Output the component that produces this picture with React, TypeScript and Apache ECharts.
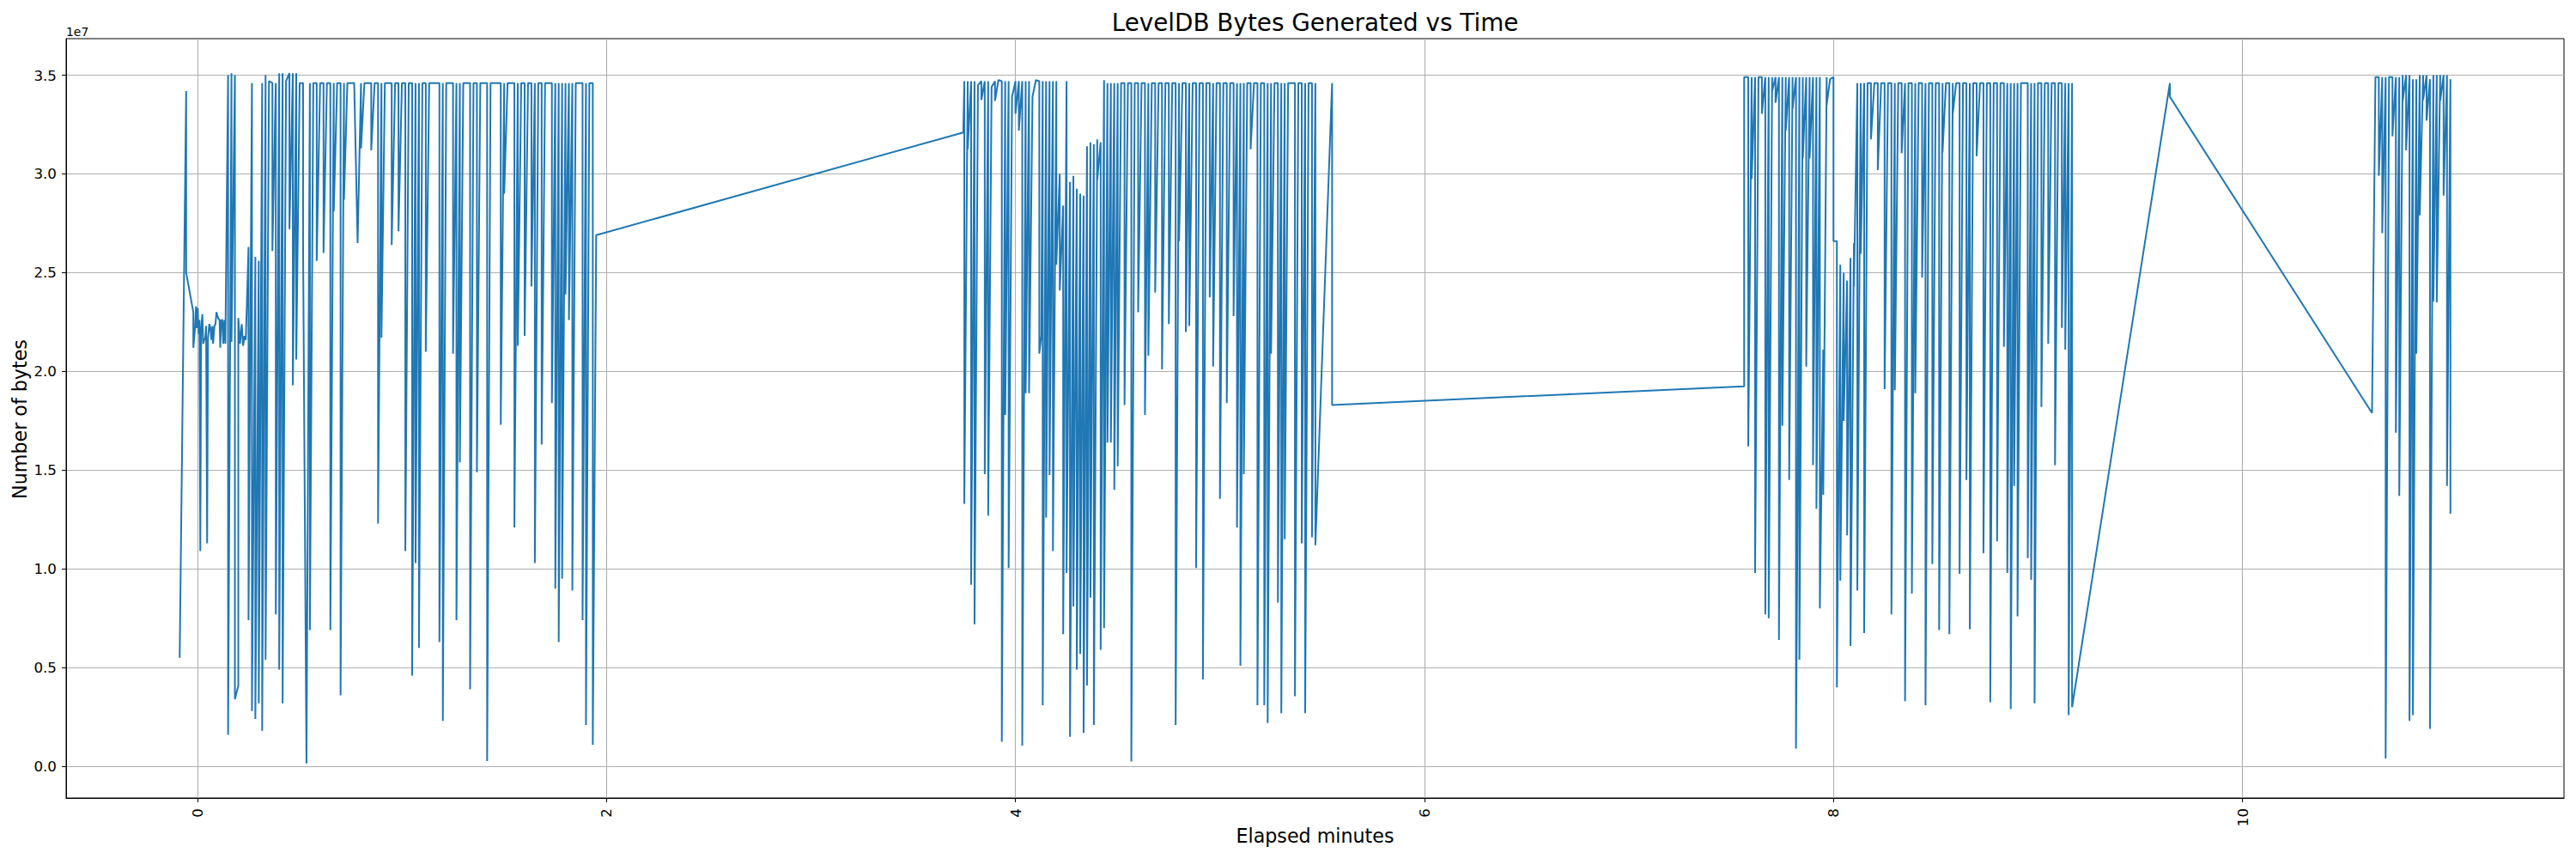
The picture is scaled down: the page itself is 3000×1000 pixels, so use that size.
import React, { useEffect, useRef } from "react";
import * as echarts from "echarts";

// Each row: [elapsed seconds, value (MB), optional second value at the same instant (MB)]
const seg1: number[][] = [
  [-5.2, 5.5], [-3.3, 34.2, 25.0], [-1.2, 23.0, 21.2], [-0.7, 22.2], [-0.4, 23.3], [-0.25, 22.2],
  [0.1, 23.2], [0.35, 21.9], [0.6, 22.6], [0.85, 10.9], [1.1, 22.2], [1.45, 22.9], [1.7, 21.4],
  [2.0, 21.6], [2.3, 21.7], [2.55, 22.3], [2.85, 11.3], [3.1, 21.7], [3.5, 22.4], [3.8, 22.2],
  [4.1, 21.6], [4.4, 22.3], [4.6, 21.4], [5.0, 22.3], [5.3, 22.4], [5.6, 23.0], [5.9, 22.8],
  [6.1, 22.7], [6.5, 22.6], [6.7, 21.2], [7.0, 22.6], [7.3, 22.6], [7.6, 21.4], [7.9, 22.6], [8.2, 21.4],
  [9, 35.0, 1.6], [10, 35.1, 21.5], [11, 35.0, 3.4], [12, 4.1, 22.7], [12.5, 21.4], [13, 22.4],
  [13.4, 21.3], [13.8, 21.8], [14.2, 21.6], [15, 26.3, 7.4], [16, 34.6, 2.8], [17, 25.8, 2.4],
  [18, 25.6, 3.2], [19, 34.6, 1.8], [20, 35.0, 5.4], [21, 34.7], [22, 34.6, 26.1], [23, 34.6, 7.7],
  [24, 35.1, 4.9], [25, 35.1, 3.2], [26, 34.7], [27, 35.1, 27.2], [28, 35.1, 19.3], [29, 35.1, 20.6],
  [30, 34.6], [31, 34.6, 26.4], [32, 0.15], [33, 34.6, 6.9], [34, 34.6], [35, 34.6, 25.6], [36, 34.6],
  [37, 34.6, 26.0], [38, 34.6], [39, 34.6, 6.9], [40, 34.6, 28.1], [41, 34.6], [42, 34.6, 3.6],
  [43, 34.6, 28.7], [44, 34.6], [46, 34.6], [47, 26.5], [48, 34.6, 31.3], [49, 34.6], [51, 34.6, 31.2],
  [52, 34.6], [53, 34.6, 12.3], [54, 34.6, 21.7], [55, 34.6], [57, 34.6, 26.4], [58, 34.6],
  [59, 34.6, 27.1], [60, 34.6], [61, 34.6, 10.9], [62, 34.6], [63, 34.6, 4.6], [64, 34.6, 10.3],
  [65, 34.6, 6.0], [66, 34.6], [67, 34.6, 21.0], [68, 34.6], [71, 34.6, 6.3], [72, 34.6, 2.3],
  [73, 34.6], [75, 34.6, 20.9], [76, 34.6, 7.4], [77, 34.6, 15.4], [78, 34.6], [80, 34.6, 3.9],
  [81, 34.6], [82, 34.6, 14.9], [83, 34.6], [85, 34.6, 0.27], [86, 34.6], [89, 34.6, 17.3],
  [90, 34.6, 29.0], [91, 34.6], [93, 34.6, 12.1], [94, 34.6, 21.3], [95, 34.6], [96, 34.6, 21.8],
  [97, 34.6], [98, 34.6, 24.3], [99, 34.6, 10.3], [100, 34.6], [101, 34.6, 16.3], [102, 34.6],
  [104, 34.6, 18.4], [105, 34.6, 9.0], [106, 34.6, 6.3], [107, 34.6, 9.5], [108, 34.6, 23.9],
  [109, 34.6, 22.6], [110, 34.6, 8.9], [111, 34.6], [113, 34.6, 7.4], [114, 34.6, 2.1], [115, 34.6],
  [116, 34.6, 1.1], [117, 26.9],
];

const seg2: number[][] = [
  [224.7, 32.1], [225, 34.7, 13.3], [226, 34.7, 31.25], [227, 34.7, 9.2], [228, 34.7, 7.2], [229, 34.5],
  [230, 34.7, 33.75], [231, 34.7, 14.8], [232, 34.7, 12.7], [233, 34.4], [234, 34.7, 33.7], [235, 34.75],
  [236, 34.7, 1.25], [237, 34.7, 17.8], [238, 34.7, 10.05], [239, 33.9], [240, 34.7, 33.05],
  [241, 34.7, 32.2], [242, 34.7, 1.05], [243, 34.7, 18.9], [244, 34.7, 18.9], [245, 33.9], [246, 34.75],
  [247, 34.7, 20.9], [247.6, 21.8], [248, 34.7, 3.1], [249, 34.7, 12.6], [250, 34.7, 14.75],
  [251, 34.7, 10.9], [252, 34.7, 25.4], [253, 30.0, 24.1], [254, 28.4, 6.7], [255, 34.7, 9.8],
  [256, 29.6, 1.5], [257, 29.9, 8.1], [258, 29.25, 4.9], [259, 29.0, 5.7], [260, 28.9, 1.7],
  [261, 31.4, 4.1], [262, 31.6, 8.55], [263, 31.5, 2.1], [264, 31.75, 29.7], [265, 31.6, 5.9],
  [266, 34.75, 7.0], [267, 34.6, 16.4], [268, 34.6, 16.4], [269, 34.6, 14.0], [270, 34.6, 15.2],
  [271, 34.6], [272, 34.6, 18.3], [273, 34.6], [274, 34.6, 0.25], [275, 34.6], [276, 34.6, 23.0],
  [277, 34.6], [278, 34.6, 17.8], [279, 34.6, 20.8], [280, 34.6], [281, 34.6, 24.0], [282, 34.6],
  [283, 34.6, 20.1], [284, 34.6], [285, 34.6, 22.4], [286, 34.6], [287, 34.6, 2.1], [288, 34.6, 26.6],
  [289, 34.6], [290, 34.6, 22.0], [291, 34.6, 22.3], [292, 34.6], [293, 34.6, 10.05], [294, 34.6],
  [295, 34.6, 4.4], [296, 34.6], [297, 34.6, 23.75], [298, 34.6, 20.25], [299, 34.6], [300, 34.6, 13.55],
  [301, 34.6], [302, 34.6, 18.4], [303, 34.6], [304, 34.6, 22.8], [305, 34.6, 12.1], [306, 34.6, 5.1],
  [307, 34.6, 14.8], [308, 34.6], [309, 34.6, 31.25], [310, 34.6], [311, 34.6, 3.1], [312, 34.6],
  [313, 34.6, 3.1], [314, 34.6, 2.2], [315, 34.6, 20.9], [316, 34.6], [317, 34.6, 8.3], [318, 34.6, 2.7],
  [319, 34.6, 11.5], [320, 34.6], [322, 34.6, 3.55], [323, 34.6], [324, 34.6, 11.3], [325, 34.6, 2.7],
  [326, 34.6], [327, 34.6, 11.6], [328, 34.6, 11.2], [332.9, 34.6, 18.3],
];

const seg3: number[][] = [
  [453.8, 19.25, 34.9], [455, 34.9, 16.2], [456, 34.9, 29.75], [457, 34.9, 9.8], [458, 34.9],
  [459, 34.9, 33.05], [460, 34.9, 7.7], [461, 34.9, 7.5], [462, 34.9, 34.2], [463, 34.9, 33.6],
  [464, 34.9, 6.4], [465, 34.9, 17.25], [466, 34.9, 32.2], [467, 34.9, 14.5], [468, 34.9, 33.3],
  [469, 34.9, 0.9], [469.5, 14.0], [470, 34.9, 5.4], [471, 34.9, 30.8], [472, 34.9, 20.25],
  [473, 34.9, 30.8], [474, 34.9, 15.25], [475, 34.9, 13.05], [476, 34.9, 8.0], [477, 21.1, 13.75],
  [478, 34.9, 33.5], [479, 34.8], [480, 34.9, 26.6], [481, 26.6, 4.0], [482, 25.4, 9.4],
  [483, 25.0, 17.5], [484, 24.6, 11.7], [485, 25.75, 6.1], [486, 26.5, 24.3], [487, 34.6, 8.9],
  [488, 34.6, 25.95], [489, 34.6, 6.75], [490, 34.6], [491, 34.6, 31.75], [492, 34.6], [493, 34.6, 30.2],
  [494, 34.6], [495, 34.6, 19.1], [496, 34.6], [497, 34.6, 7.7], [498, 34.6, 19.05], [499, 34.6],
  [500, 34.6, 31.05], [501, 34.6, 3.3], [502, 34.6], [503, 34.6, 8.75], [504, 34.6, 18.9], [505, 34.6],
  [506, 34.6, 24.75], [507, 34.6, 3.1], [508, 34.6], [509, 34.6, 10.25], [510, 34.6], [511, 34.6, 6.9],
  [512, 34.6, 31.1], [513, 34.6], [514, 34.6, 6.7], [515, 34.6, 33.05], [516, 34.6], [517, 34.6, 9.75],
  [518, 34.6], [519, 34.6, 14.5], [520, 34.6, 6.95], [521, 34.6], [522, 34.6, 30.9], [523, 34.6],
  [524, 34.6, 10.8], [525, 34.6], [526, 34.6, 3.25], [527, 34.6], [528, 34.6, 11.4], [529, 34.6],
  [530, 34.6, 21.25], [531, 34.6, 9.8], [532, 34.6, 2.9], [533, 34.6, 14.2], [534, 34.6, 7.6],
  [535, 34.6], [537, 34.6, 10.55], [538, 34.6, 9.45], [539, 34.6, 3.2], [540, 34.6], [541, 34.6, 18.2],
  [542, 34.6], [543, 34.6, 21.4], [544, 34.6], [545, 34.6, 15.25], [546, 34.6], [547, 34.6, 22.2],
  [548, 34.6, 21.1], [549, 34.6, 2.6], [550, 34.6, 3.0],
];

const gapPeak: number[][] = [[578.7, 34.6, 33.9], [638, 17.9]];

const seg4: number[][] = [
  [639, 34.9], [640, 34.9, 29.9], [641, 34.9, 27.0], [642, 34.9, 0.4], [643, 34.9], [644, 34.9, 31.9],
  [645, 34.9, 16.9], [646, 34.9, 13.7], [647, 35.0, 33.7], [648, 35.0, 31.2], [649, 35.0, 2.3],
  [650, 34.8, 2.6], [651, 34.8, 20.9], [652, 35.0, 27.9], [653, 35.0, 33.75], [654, 35.0, 32.7],
  [655, 34.8, 1.9], [656, 35.0, 23.55], [657, 35.0, 23.5], [658, 35.0, 33.7], [659, 35.0, 28.9],
  [660, 35.0, 14.2], [661, 34.8, 12.8],
];

const xTicks = [0, 2, 4, 6, 8, 10];
const yTicks = [0, 5e6, 10e6, 15e6, 20e6, 25e6, 30e6, 35e6];

const TITLE = "LevelDB Bytes Generated vs Time";
const X_NAME = "Elapsed minutes";
const Y_NAME = "Number of bytes";
const OFFSET_TEXT = "1e7";

const FONT = "DejaVu Sans";

function buildPoints(): [number, number][] {
  const out: [number, number][] = [];
  for (const seg of [seg1, seg2, seg3, gapPeak, seg4]) {
    for (const row of seg) {
      const s = row[0];
      for (let i = 1; i < row.length; i++) out.push([s / 60, row[i] * 1e6]);
    }
  }
  return out;
}

export default function App() {
  const ref = useRef<HTMLDivElement>(null);
  useEffect(() => {
    if (!ref.current) return;
    const chart = echarts.init(ref.current, null, { renderer: "svg" });
    chart.setOption({
      animation: false,
      backgroundColor: "#ffffff",
      grid: {
        left: 77,
        top: 45,
        right: 14,
        bottom: 71,
        show: true,
        borderColor: "#000000",
        borderWidth: 1,
        containLabel: false,
        outerBoundsMode: "none",
      },
      xAxis: {
        type: "value",
        min: -0.642,
        max: 11.572,
        splitNumber: 6,
        axisLine: { show: true, onZero: false, lineStyle: { color: "#000", width: 1 } },
        axisTick: { show: true, customValues: xTicks, length: 5, lineStyle: { color: "#000", width: 1 } },
        axisLabel: {
          customValues: xTicks,
          rotate: 90,
          margin: 12,
          fontSize: 16.7,
          fontFamily: FONT,
          color: "#000",
          formatter: (v: number) => String(v),
        },
        splitLine: { show: true, lineStyle: { color: "#b0b0b0", width: 1.1 } },
      },
      yAxis: {
        type: "value",
        min: -1.6e6,
        max: 36.85e6,
        splitNumber: 8,
        axisLine: { show: true, onZero: false, lineStyle: { color: "#000", width: 1 } },
        axisTick: { show: true, customValues: yTicks, length: 5, lineStyle: { color: "#000", width: 1 } },
        axisLabel: {
          customValues: yTicks,
          margin: 11,
          fontSize: 16.7,
          fontFamily: FONT,
          color: "#000",
          formatter: (v: number) => (v / 1e7).toFixed(1),
        },
        splitLine: { show: true, lineStyle: { color: "#b0b0b0", width: 1.1 } },
      },
      graphic: [
        {
          type: "text",
          x: 1531.5,
          y: 26,
          style: { text: TITLE, fontSize: 27.8, fontFamily: FONT, fill: "#000", align: "center", verticalAlign: "middle" },
        },
        {
          type: "text",
          x: 1531.5,
          y: 973,
          style: { text: X_NAME, fontSize: 22.2, fontFamily: FONT, fill: "#000", align: "center", verticalAlign: "middle" },
        },
        {
          type: "text",
          x: 23,
          y: 488,
          rotation: Math.PI / 2,
          style: { text: Y_NAME, fontSize: 22.2, fontFamily: FONT, fill: "#000", align: "center", verticalAlign: "middle" },
        },
        {
          type: "text",
          x: 77,
          y: 37,
          style: { text: OFFSET_TEXT, fontSize: 13.9, fontFamily: FONT, fill: "#000", align: "left", verticalAlign: "middle" },
        },
      ],
      series: [
        {
          type: "line",
          data: buildPoints(),
          showSymbol: false,
          symbol: "none",
          silent: true,
          clip: true,
          lineStyle: { color: "#1f77b4", width: 2 },
        },
      ],
    });
    return () => chart.dispose();
  }, []);
  return (
    <div
      ref={ref}
      style={{ position: "fixed", left: 0, top: 0, width: 3000, height: 1000, background: "#fff" }}
    />
  );
}
